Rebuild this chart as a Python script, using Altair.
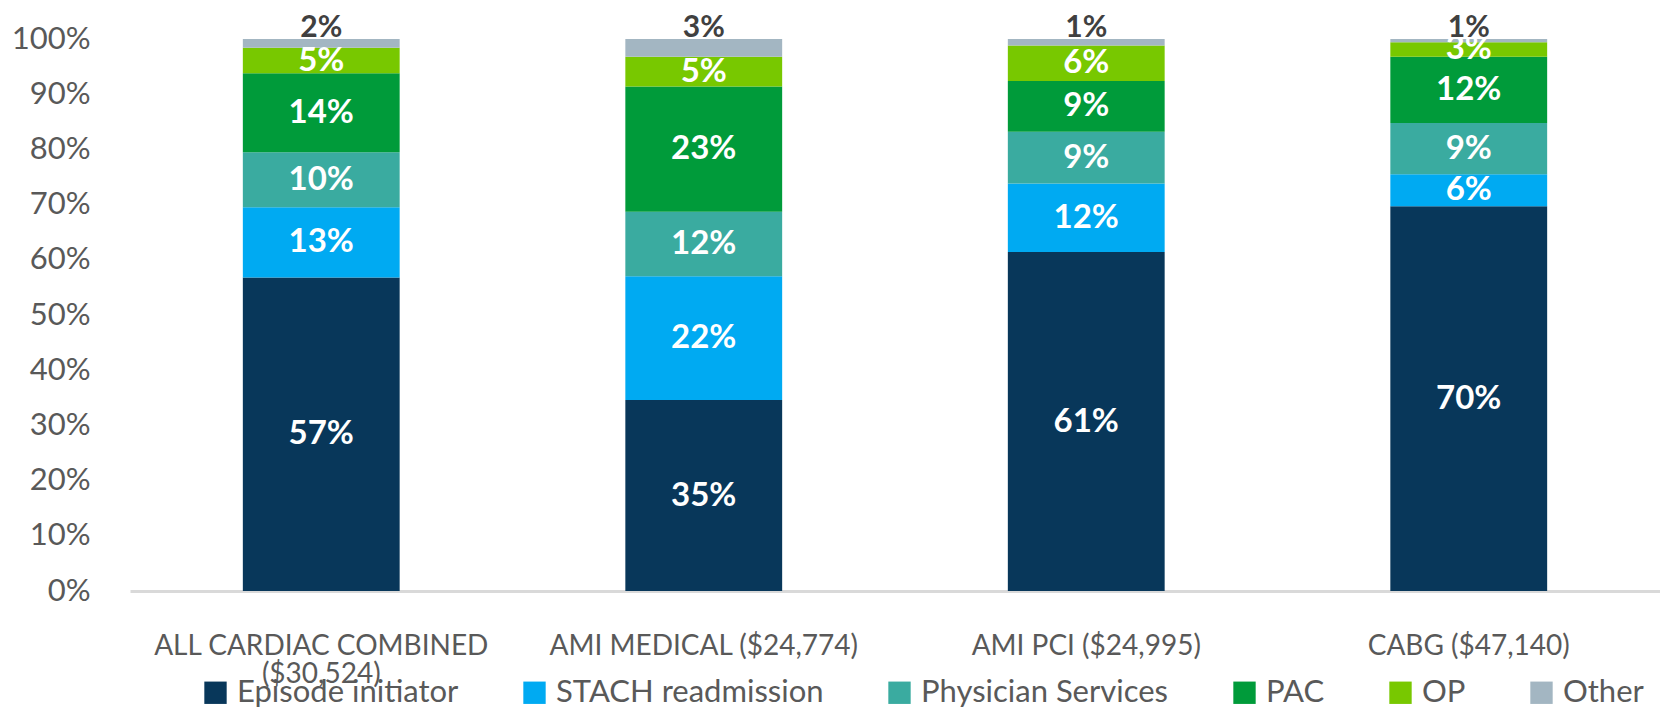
import altair as alt
import pandas as pd

categories = ["ALL CARDIAC COMBINED ($30,524)", "AMI MEDICAL ($24,774)", "AMI PCI ($24,995)", "CABG ($47,140)"]
series = ["Episode initiator", "STACH readmission", "Physician Services", "PAC", "OP", "Other"]
colors = ["#08375a", "#00aaf2", "#3aaba0", "#009b3a", "#78c800", "#a3b6c2"]

episode = [56.8, 34.6, 61.4, 69.7]
stach = [12.7, 22.4, 12.4, 5.8]
physician = [10.0, 11.7, 9.4, 9.3]
pac = [14.3, 22.7, 9.2, 12.0]
op = [4.6, 5.4, 6.4, 2.6]
other = [1.6, 3.2, 1.2, 0.6]

values = [episode, stach, physician, pac, op, other]
rows = []
for si, (s, vals) in enumerate(zip(series, values)):
    for c, v in zip(categories, vals):
        rows.append({"cat": c, "series": s, "idx": si, "value": v})
df = pd.DataFrame(rows)

FONT = "Lato, sans-serif"

wrap_expr = ("datum.label == 'ALL CARDIAC COMBINED ($30,524)' ? "
             "['ALL CARDIAC COMBINED', '($30,524)'] : datum.label")

x_enc = alt.X("cat:N", sort=categories,
              scale=alt.Scale(paddingInner=0.59, paddingOuter=0.295),
              axis=alt.Axis(title=None, labelAngle=0, domain=True, domainColor="#d9d9d9",
                            domainWidth=3, ticks=False, grid=False, labelPadding=41,
                            labelFontSize=28, labelColor="#595959", labelFont=FONT,
                            labelLineHeight=28, labelExpr=wrap_expr, labelBaseline="top",
                            labelLimit=0))

y_scale = alt.Scale(domain=[0, 100], nice=False)

bars = alt.Chart(df).mark_bar().encode(
    x=x_enc,
    y=alt.Y("value:Q", stack="zero", scale=y_scale,
            axis=alt.Axis(title=None, values=list(range(0, 101, 10)),
                          labelExpr="datum.value + '%'", domain=False, ticks=False,
                          grid=False, labelPadding=40, labelFontSize=31,
                          labelColor="#595959", labelFont=FONT)),
    color=alt.Color("series:N", sort=series,
                    scale=alt.Scale(domain=series, range=colors),
                    legend=alt.Legend(title=None, orient="none", legendX=70, legendY=638,
                                      direction="horizontal", columns=6,
                                      symbolType="square", symbolSize=500,
                                      symbolStrokeWidth=0, labelFontSize=31,
                                      labelColor="#595959", labelFont=FONT,
                                      columnPadding=60, labelOffset=6, padding=0,
                                      labelLimit=0)),
    order=alt.Order("idx:Q", sort="ascending"),
)

base = alt.Chart(df).transform_stack(
    stack="value", groupby=["cat"], sort=[alt.SortField("idx", order="ascending")],
    as_=["y0", "y1"]
).transform_calculate(
    mid="(datum.y0 + datum.y1) / 2",
    lab="format(datum.value, '.0f') + '%'"
)

inner = base.transform_filter("datum.series != 'Other'").mark_text(
    color="white", fontWeight="bold", fontSize=33, font=FONT, baseline="middle"
).encode(x=alt.X("cat:N", sort=categories), y=alt.Y("mid:Q", scale=y_scale), text="lab:N")

top = base.transform_filter("datum.series == 'Other'").mark_text(
    color="#404040", fontWeight="bold", fontSize=30, font=FONT, baseline="alphabetic", dy=-2
).encode(x=alt.X("cat:N", sort=categories), y=alt.Y("y1:Q", scale=y_scale), text="lab:N")

chart = alt.layer(bars, inner, top).properties(
    width=1530, height=552,
    autosize=alt.AutoSizeParams(type="none"),
    padding={"left": 122, "top": 31, "right": 0, "bottom": 118},
).configure_view(stroke=None)

chart.save("out.html", embed_options={"renderer": "svg", "actions": False})
